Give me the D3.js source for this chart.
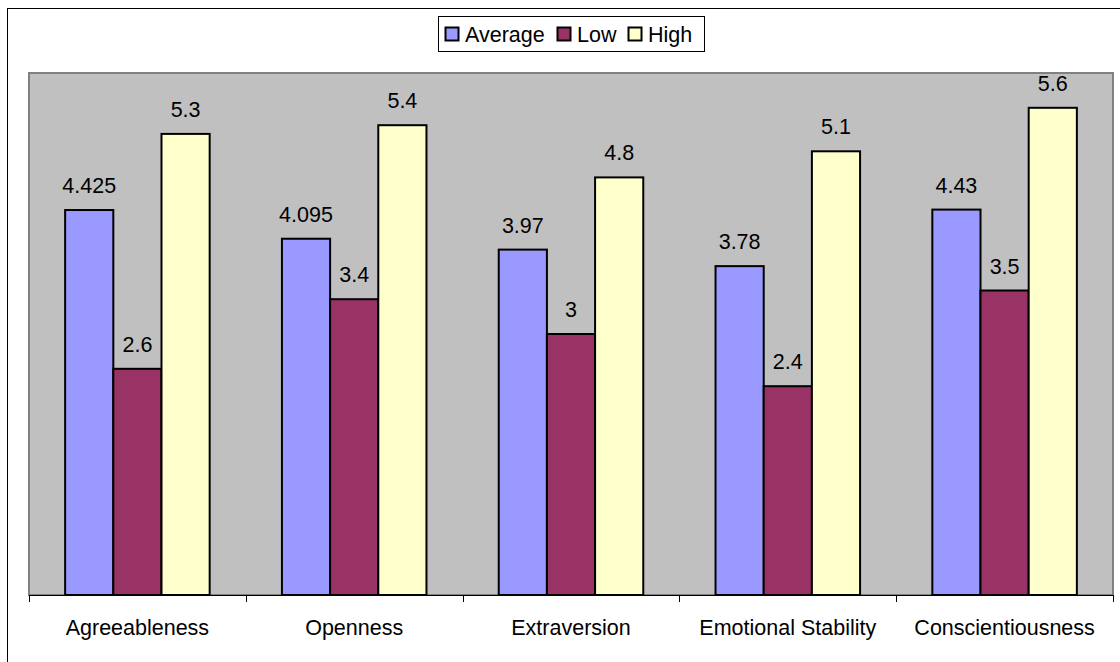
<!DOCTYPE html>
<html>
<head>
<meta charset="utf-8">
<script src="https://cdn.jsdelivr.net/npm/d3@7"></script>
<style>
html,body{margin:0;padding:0;background:#fff;}
svg{display:block;}
text{font-family:"Liberation Sans",Arial,sans-serif;fill:#000;}
</style>
</head>
<body>
<svg id="chart" width="1120" height="662"></svg>
<script>
const categories = ["Agreeableness","Openness","Extraversion","Emotional Stability","Conscientiousness"];
const seriesNames = ["Average","Low","High"];
const averageValues = [4.425, 4.095, 3.97, 3.78, 4.43];
const lowValues = [2.6, 3.4, 3, 2.4, 3.5];
const highValues = [5.3, 5.4, 4.8, 5.1, 5.6];
const seriesColors = ["#9999FF","#993366","#FFFFCC"];
const yDomain = [0, 6];

const series = [averageValues, lowValues, highValues];
const svg = d3.select("#chart");
const FS = "21.5px";

// outer frame
svg.append("rect").attr("x",7.5).attr("y",8.5).attr("width",1130).attr("height",670)
  .attr("fill","#fff").attr("stroke","#000").attr("stroke-width",1);

const plot = {left:29, right:1113, top:73, bottom:595};

svg.append("rect").attr("x",plot.left).attr("y",plot.top)
  .attr("width",plot.right-plot.left).attr("height",plot.bottom-plot.top)
  .attr("fill","#C0C0C0").attr("stroke","#808080").attr("stroke-width",2);

const x0 = d3.scaleBand().domain(categories).range([plot.left, plot.right]).paddingInner(0).paddingOuter(0);
const x1 = d3.scaleBand().domain(seriesNames).range([0, x0.bandwidth()]).paddingOuter(0.75).paddingInner(0);
const y = d3.scaleLinear().domain(yDomain).range([plot.bottom, plot.top]);

// bars
const g = svg.append("g");
categories.forEach((c, ci) => {
  seriesNames.forEach((s, si) => {
    const v = series[si][ci];
    const bx = x0(c) + x1(s);
    g.append("rect")
      .attr("x", bx).attr("y", y(v))
      .attr("width", x1.bandwidth()).attr("height", y(0) - y(v))
      .attr("fill", seriesColors[si]).attr("stroke","#000").attr("stroke-width",2);
    g.append("text")
      .attr("x", bx + x1.bandwidth()/2).attr("y", y(v) - 17)
      .attr("text-anchor","middle").style("font-size",FS)
      .text(String(v));
  });
});

// x axis
const axis = d3.axisBottom(x0).tickSize(7).tickSizeOuter(0).tickFormat("");
const ax = svg.append("g").attr("transform",`translate(0,${plot.bottom})`).call(axis);
ax.select(".domain").attr("stroke","#000");
ax.selectAll(".tick").remove();
const boundaries = categories.map(c => x0(c)).concat([x0(categories[categories.length-1]) + x0.bandwidth()]);
ax.selectAll("line.bt").data(boundaries).enter().append("line")
  .attr("x1", d => Math.round(d)+0.5).attr("x2", d => Math.round(d)+0.5)
  .attr("y1", 0).attr("y2", 7).attr("stroke","#000");
ax.selectAll("text.cat").data(categories).enter().append("text")
  .attr("x", d => x0(d) + x0.bandwidth()/2).attr("y", 40)
  .attr("text-anchor","middle").style("font-size",FS).text(d => d);

// legend
const leg = svg.append("g").attr("transform","translate(438,0)");
leg.append("rect").attr("x", 0.5).attr("y", 16.5).attr("width", 266).attr("height", 35)
  .attr("fill","#fff").attr("stroke","#000").attr("stroke-width",1);
const legX = [7, 119, 190];
seriesNames.forEach((s, i) => {
  leg.append("rect").attr("x", legX[i] + 0.5).attr("y", 27.5).attr("width", 13).attr("height", 13)
    .attr("fill", seriesColors[i]).attr("stroke","#000").attr("stroke-width",2);
  leg.append("text").attr("x", legX[i] + 20).attr("y", 41.5).style("font-size",FS).text(s);
});
</script>
</body>
</html>
